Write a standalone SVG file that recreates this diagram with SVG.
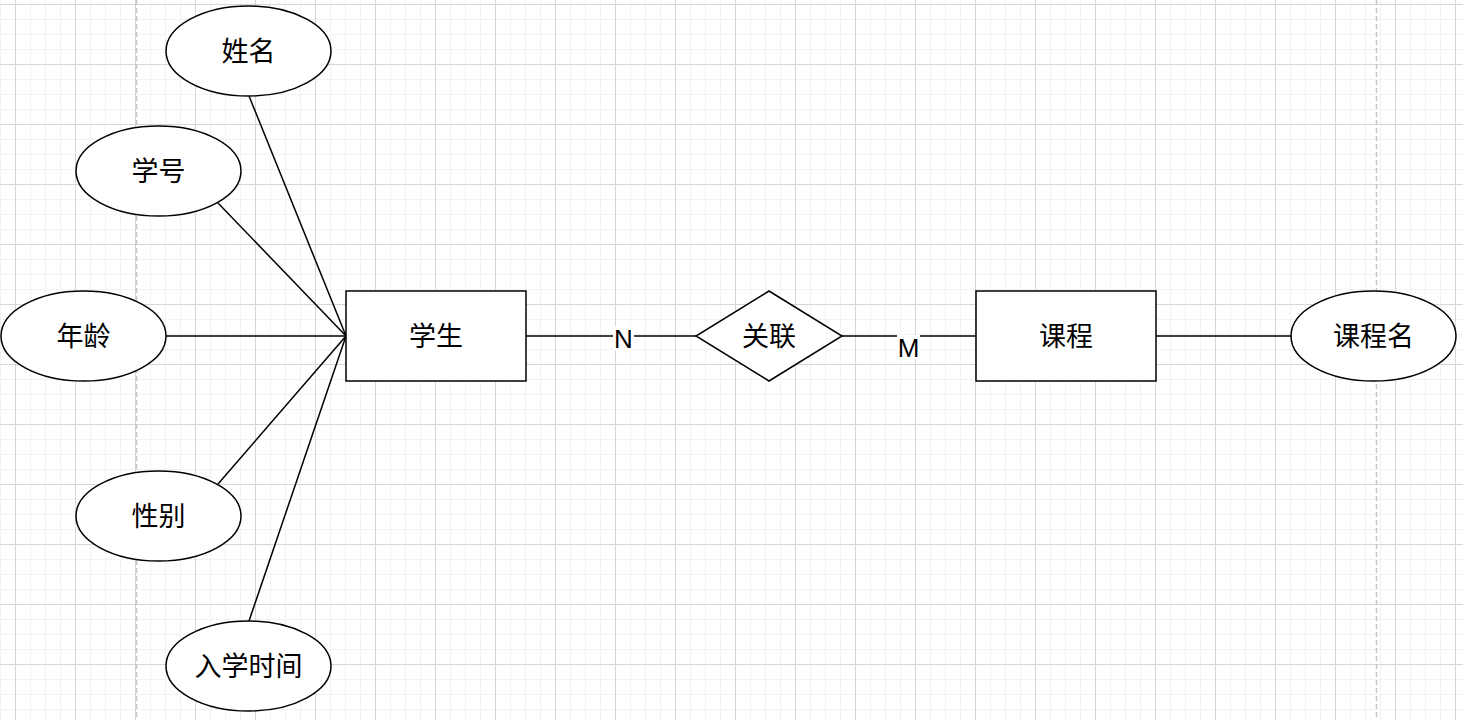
<svg xmlns="http://www.w3.org/2000/svg" width="1463" height="720" viewBox="0 0 1463 720">
<style>
.s{fill:#fff;stroke:#000;stroke-width:1.5}
.e{stroke:#000;stroke-width:1.5;fill:none}
.t{font-family:"Noto Sans CJK SC","Liberation Sans",sans-serif;font-size:27px;fill:#000;text-anchor:middle}
.l{font-family:"Liberation Sans","Noto Sans CJK SC",sans-serif;font-size:26px;fill:#000;text-anchor:middle}
</style>
<defs>
<pattern id="grid" patternUnits="userSpaceOnUse" x="15" y="4" width="60" height="60">
<path d="M15.5 0V60M30.5 0V60M45.5 0V60M0 15.5H60M0 30.5H60M0 45.5H60" stroke="#f2f2f2" stroke-width="1" fill="none"/>
<path d="M0.5 0V60M0 0.5H60" stroke="#d6d6d6" stroke-width="1" fill="none"/>
</pattern>
</defs>
<rect width="1463" height="720" fill="#fff"/>
<rect width="1463" height="720" fill="url(#grid)"/>
<path d="M136.5 0V720M1376.5 0V720" stroke="#c4c4c4" stroke-width="1.5" stroke-dasharray="5 3" fill="none"/>
<g id="connectors">
<line class="e" x1="249" y1="96" x2="346" y2="336"/>
<line class="e" x1="218" y1="203" x2="346" y2="336"/>
<line class="e" x1="166" y1="336" x2="346" y2="336"/>
<line class="e" x1="218" y1="484" x2="346" y2="336"/>
<line class="e" x1="249" y1="621" x2="346" y2="336"/>
<line class="e" x1="526" y1="336" x2="696" y2="336"/>
<line class="e" x1="842" y1="336" x2="976" y2="336"/>
<line class="e" x1="1156" y1="336" x2="1291" y2="336"/>
<rect x="613" y="326" width="21" height="24" fill="#fff"/>
<text class="l" x="623.5" y="348">N</text>
<rect x="897" y="335" width="23" height="24" fill="#fff"/>
<text class="l" x="908.5" y="357">M</text>
</g>
<g id="xingming"><ellipse class="s" cx="248.5" cy="51" rx="82.5" ry="45"/><text class="t" x="248.5" y="61">姓名</text></g>
<g id="xuehao"><ellipse class="s" cx="158.5" cy="171" rx="82.5" ry="45"/><text class="t" x="158.5" y="181">学号</text></g>
<g id="nianling"><ellipse class="s" cx="83.5" cy="336" rx="82.5" ry="45"/><text class="t" x="83.5" y="346">年龄</text></g>
<g id="xingbie"><ellipse class="s" cx="158.5" cy="516" rx="82.5" ry="45"/><text class="t" x="158.5" y="526">性别</text></g>
<g id="ruxueshijian"><ellipse class="s" cx="248.5" cy="666" rx="82.5" ry="45"/><text class="t" x="248.5" y="676">入学时间</text></g>
<g id="xuesheng"><rect class="s" x="346" y="291" width="180" height="90"/><text class="t" x="436" y="346">学生</text></g>
<g id="guanlian"><polygon class="s" points="769,291 842,336 769,381 696,336"/><text class="t" x="769" y="346">关联</text></g>
<g id="kecheng"><rect class="s" x="976" y="291" width="180" height="90"/><text class="t" x="1066" y="346">课程</text></g>
<g id="kechengming"><ellipse class="s" cx="1373.5" cy="336" rx="82.5" ry="45"/><text class="t" x="1373.5" y="346">课程名</text></g>
</svg>
